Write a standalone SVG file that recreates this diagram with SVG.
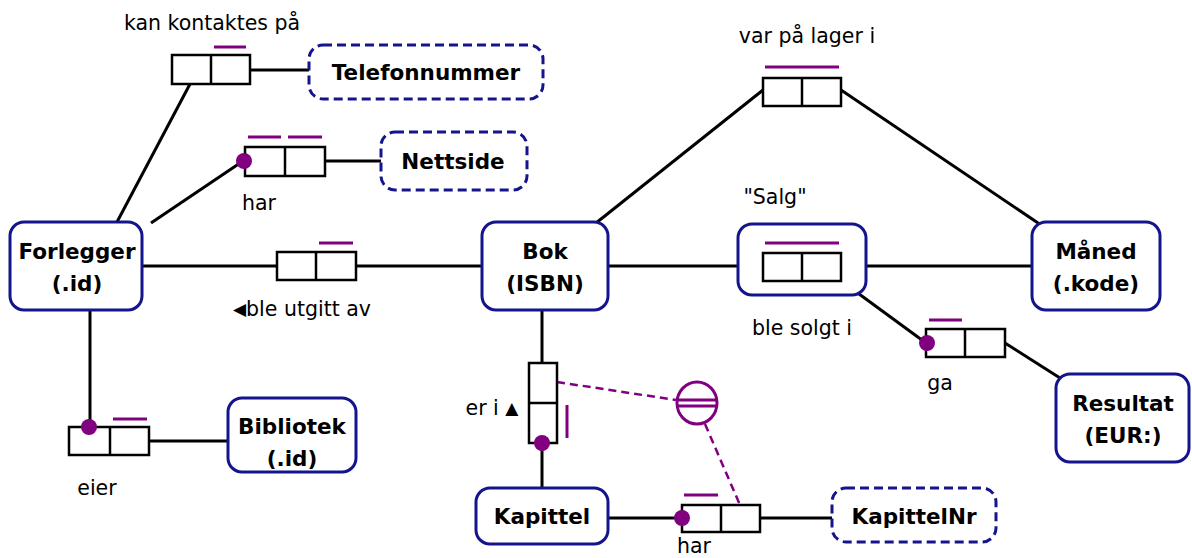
<svg xmlns="http://www.w3.org/2000/svg" width="1192" height="558" viewBox="0 0 1192 558">
<style>
.ent{fill:#fff;stroke:#14148c;stroke-width:3}
.val{fill:#fff;stroke:#14148c;stroke-width:3;stroke-dasharray:9 5}
.nt{font-family:"DejaVu Sans",Verdana,sans-serif;font-weight:bold;font-size:21.5px;fill:#000;text-anchor:middle}
.lb{font-family:"DejaVu Sans",Verdana,sans-serif;font-size:20.5px;fill:#000;text-anchor:middle}
.tri{font-size:17px}
.role{fill:#fff;stroke:#000;stroke-width:2.5}
.ln{stroke:#000;stroke-width:3;fill:none}
.uc{stroke:#800080;stroke-width:3;fill:none}
.dot{fill:#800080}
.ext{stroke:#800080;stroke-width:2.5;fill:none;stroke-dasharray:8 5}
</style>
<g id="connectors">
<line class="ln" x1="190" y1="84" x2="117" y2="222"/>
<line class="ln" x1="250" y1="70" x2="309" y2="70"/>
<line class="ln" x1="243" y1="161" x2="151" y2="223"/>
<line class="ln" x1="325" y1="161" x2="381" y2="161"/>
<line class="ln" x1="142" y1="266" x2="277" y2="266"/>
<line class="ln" x1="356" y1="266" x2="482" y2="266"/>
<line class="ln" x1="90" y1="310" x2="90" y2="427"/>
<line class="ln" x1="149" y1="441" x2="228" y2="441"/>
<line class="ln" x1="542" y1="310" x2="542" y2="363"/>
<line class="ln" x1="542" y1="443" x2="542" y2="488"/>
<line class="ln" x1="608" y1="518" x2="682" y2="518"/>
<line class="ln" x1="760" y1="518" x2="832" y2="518"/>
<line class="ln" x1="608" y1="266" x2="763" y2="266"/>
<line class="ln" x1="841" y1="266" x2="1032" y2="266"/>
<line class="ln" x1="763" y1="90" x2="596" y2="223"/>
<line class="ln" x1="841" y1="90" x2="1041" y2="225"/>
<line class="ln" x1="855" y1="291" x2="926" y2="343"/>
<line class="ln" x1="1005" y1="343" x2="1060" y2="378"/>
<line class="ext" x1="557" y1="382" x2="676" y2="400"/>
<line class="ext" x1="705" y1="424" x2="740" y2="505"/>
</g>
<g id="Forlegger"><rect class="ent" x="10" y="222" width="132" height="88" rx="14"/><text class="nt" x="77" y="259">Forlegger</text><text class="nt" x="77" y="291">(.id)</text></g>
<g id="Bok"><rect class="ent" x="482" y="222" width="126" height="88" rx="14"/><text class="nt" x="545" y="259">Bok</text><text class="nt" x="545" y="291">(ISBN)</text></g>
<g id="Maned"><rect class="ent" x="1032" y="222" width="128" height="88" rx="14"/><text class="nt" x="1096" y="259">Måned</text><text class="nt" x="1096" y="291">(.kode)</text></g>
<g id="Resultat"><rect class="ent" x="1056" y="374" width="133" height="88" rx="14"/><text class="nt" x="1123" y="411">Resultat</text><text class="nt" x="1123" y="443">(EUR:)</text></g>
<g id="Bibliotek"><rect class="ent" x="228" y="398" width="128" height="74" rx="14"/><text class="nt" x="292" y="434">Bibliotek</text><text class="nt" x="292" y="466">(.id)</text></g>
<g id="Kapittel"><rect class="ent" x="476" y="488" width="132" height="56" rx="14"/><text class="nt" x="542" y="524">Kapittel</text></g>
<g id="KapittelNr"><rect class="val" x="832" y="488" width="164" height="54" rx="14"/><text class="nt" x="914" y="524">KapittelNr</text></g>
<g id="Telefonnummer"><rect class="val" x="309" y="45" width="234" height="54" rx="14"/><text class="nt" x="426" y="80">Telefonnummer</text></g>
<g id="Nettside"><rect class="val" x="381" y="132" width="146" height="58" rx="14"/><text class="nt" x="453" y="169">Nettside</text></g>
<g id="Salg"><rect class="ent" x="738" y="224" width="128" height="71" rx="14"/><text class="lb" x="775" y="204">"Salg"</text>
<rect class="role" x="763" y="253" width="78" height="28"/><line class="role" x1="802" y1="253" x2="802" y2="281"/><line class="uc" x1="765" y1="243" x2="839" y2="243"/><text class="lb" x="802" y="335">ble solgt i</text></g>
<g id="fact-kontaktes"><rect class="role" x="172" y="55" width="78" height="29"/><line class="role" x1="211" y1="55" x2="211" y2="84"/><line class="uc" x1="214" y1="47" x2="246" y2="47"/><text class="lb" x="212" y="30">kan kontaktes på</text></g>
<g id="fact-nettside"><rect class="role" x="245" y="147" width="80" height="29"/><line class="role" x1="285" y1="147" x2="285" y2="176"/><circle class="dot" cx="244" cy="161" r="8"/><line class="uc" x1="248" y1="137" x2="281" y2="137"/><line class="uc" x1="288" y1="137" x2="322" y2="137"/><text class="lb" x="259" y="210">har</text></g>
<g id="fact-utgitt"><rect class="role" x="277" y="252" width="79" height="28"/><line class="role" x1="316" y1="252" x2="316" y2="280"/><line class="uc" x1="319" y1="243" x2="353" y2="243"/><text class="lb" x="302" y="316"><tspan class="tri" dy="-1">◀</tspan><tspan dy="1">ble utgitt av</tspan></text></g>
<g id="fact-eier"><rect class="role" x="69" y="427" width="80" height="28"/><line class="role" x1="110" y1="427" x2="110" y2="455"/><circle class="dot" cx="89" cy="427" r="8"/><line class="uc" x1="113" y1="419" x2="147" y2="419"/><text class="lb" x="97" y="495">eier</text></g>
<g id="fact-er-i"><rect class="role" x="529" y="363" width="28" height="80"/><line class="role" x1="529" y1="403" x2="557" y2="403"/><circle class="dot" cx="542" cy="443" r="8"/><line class="uc" x1="567" y1="405" x2="567" y2="438"/><text class="lb" x="492" y="415">er i <tspan class="tri" dy="-1">▲</tspan></text></g>
<g id="fact-har-nr"><rect class="role" x="682" y="505" width="78" height="27"/><line class="role" x1="721" y1="505" x2="721" y2="532"/><circle class="dot" cx="682" cy="518" r="8"/><line class="uc" x1="684" y1="495" x2="718" y2="495"/><text class="lb" x="694" y="553">har</text></g>
<g id="fact-lager"><rect class="role" x="763" y="78" width="78" height="28"/><line class="role" x1="802" y1="78" x2="802" y2="106"/><line class="uc" x1="765" y1="67" x2="839" y2="67"/><text class="lb" x="807" y="43">var på lager i</text></g>
<g id="fact-ga"><rect class="role" x="926" y="329" width="79" height="28"/><line class="role" x1="965" y1="329" x2="965" y2="357"/><circle class="dot" cx="927" cy="343" r="8"/><line class="uc" x1="929" y1="320" x2="962" y2="320"/><text class="lb" x="940" y="390">ga</text></g>
<g id="ext-uniqueness"><ellipse cx="697" cy="403" rx="20" ry="21" fill="#fff" stroke="#800080" stroke-width="3"/><line class="uc" x1="677" y1="400" x2="717" y2="400" stroke-width="2.5"/><line class="uc" x1="677" y1="406" x2="717" y2="406" stroke-width="2.5"/></g>
</svg>
